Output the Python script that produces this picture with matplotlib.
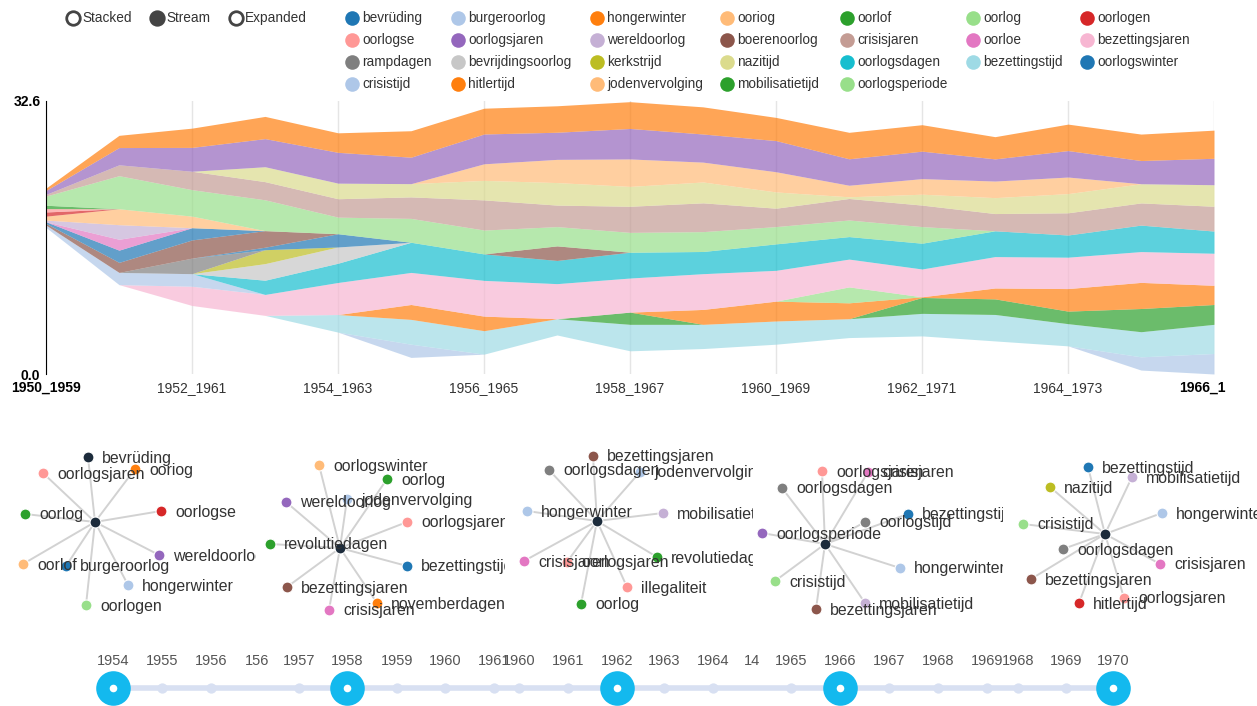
import numpy as np
import matplotlib.pyplot as plt
from matplotlib.transforms import Bbox, TransformedBbox

plt.rcParams['font.family'] = ['Liberation Sans', 'DejaVu Sans']

# ---- data: stream chart (year windows, layer thickness per window) ----
periods = ['1950_1959', '1951_1960', '1952_1961', '1953_1962', '1954_1963', '1955_1964',
           '1956_1965', '1957_1966', '1958_1967', '1959_1968', '1960_1969', '1961_1970',
           '1962_1971', '1963_1972', '1964_1973', '1965_1974', '1966_1975']
y_max = 32.6

# stream offset of the lowest layer
baseline = [17.5, 10.67, 8.18, 7.0, 5.0, 1.98, 2.37, 4.66, 2.77, 3.04, 3.56, 4.35, 4.55, 3.95, 3.36, 0.47, 0.0]

crisistijd        = [0, 0, 0, 0, 0, 1.58, 0, 0, 0, 0, 0, 0, 0, 0, 0, 1.58, 2.45]
bezettingstijd    = [0, 0, 0, 0, 2.1, 2.96, 2.8, 1.94, 3.16, 2.89, 2.77, 2.25, 2.69, 3.16, 2.65, 3.0, 3.48]
mobilisatietijd   = [0, 0, 0, 0, 0, 0, 0, 0, 1.46, 0, 0, 0, 1.9, 1.86, 1.5, 2.77, 2.37]
hitlertijd        = [0, 0, 0, 0, 0, 1.78, 1.74, 0, 0, 1.78, 2.37, 1.9, 0.08, 1.3, 2.69, 3.12, 2.29]
oorlogsperiode    = [0, 0, 0, 0, 0, 0, 0, 0, 0, 0, 0, 1.9, 0, 0, 0, 0, 0]
bezettingsjaren   = [0, 0, 2.3, 2.5, 3.83, 3.83, 4.27, 4.19, 4.07, 4.27, 3.68, 3.32, 3.32, 3.75, 3.75, 3.68, 3.83]
burgeroorlog      = [0.28, 1.46, 1.5, 0, 0, 0, 0, 0, 0, 0, 0, 0, 0, 0, 0, 0, 0]
oorlogsdagen      = [0, 0, 0, 1.7, 2.3, 3.6, 3.16, 2.77, 3.08, 2.65, 3.16, 2.69, 3.08, 3.08, 2.65, 3.16, 2.65]
bevrijdingsoorlog = [0, 0, 0, 1.98, 1.94, 0, 0, 0, 0, 0, 0, 0, 0, 0, 0, 0, 0]
kerkstrijd        = [0, 0, 0, 1.66, 0, 0, 0, 0, 0, 0, 0, 0, 0, 0, 0, 0, 0]
rampdagen         = [0, 0, 1.86, 0, 0, 0, 0, 0, 0, 0, 0, 0, 0, 0, 0, 0, 0]
oorlogswinter     = [0, 0, 0, 0.3, 1.58, 0, 0, 0, 0, 0, 0, 0, 0, 0, 0, 0, 0]
boerenoorlog      = [0.2, 1.2, 2.17, 1.98, 0, 0, 0, 1.74, 0, 0, 0, 0, 0, 0, 0, 0, 0]
bevruding         = [0.2, 1.46, 1.46, 0, 0, 0, 0, 0, 0, 0, 0, 0, 0, 0, 0, 0, 0]
oorloe            = [0, 1.3, 0, 0, 0, 0, 0, 0, 0, 0, 0, 0, 0, 0, 0, 0, 0]
wereldoorlog      = [0.2, 1.74, 0, 0, 0, 0, 0, 0, 0, 0, 0, 0, 0, 0, 0, 0, 0]
ooriog            = [0.47, 1.9, 1.38, 0, 0, 0, 0, 0, 0, 0, 0, 0, 0, 0, 0, 0, 0]
oorlogen          = [0.5, 0, 0, 0, 0, 0, 0, 0, 0, 0, 0, 0, 0, 0, 0, 0, 0]
oorlogse          = [0.4, 0, 0, 0, 0, 0, 0, 0, 0, 0, 0, 0, 0, 0, 0, 0, 0]
oorlof            = [0.4, 0, 0, 0, 0, 0, 0, 0, 0, 0, 0, 0, 0, 0, 0, 0, 0]
oorlog            = [1.1, 3.95, 3.16, 3.68, 1.98, 2.85, 2.85, 2.3, 2.37, 2.37, 2.06, 1.98, 1.98, 0, 0, 0, 0]
crisisjaren       = [0.2, 1.3, 2.2, 2.17, 2.2, 2.57, 3.6, 2.57, 3.12, 3.44, 2.2, 2.57, 2.57, 2.06, 2.65, 2.65, 2.96]
nazitijd          = [0, 0, 0, 1.78, 1.86, 1.58, 2.33, 2.69, 2.37, 2.49, 1.94, 0.2, 1.3, 1.9, 2.29, 2.29, 2.57]
jodenvervolging   = [0, 0, 0, 0, 0, 0, 1.98, 2.77, 3.28, 2.37, 2.41, 1.38, 1.86, 1.98, 1.98, 0, 0]
oorlogsjaren      = [0.47, 2.06, 2.85, 3.36, 3.68, 3.16, 3.56, 3.24, 3.64, 3.36, 3.72, 3.16, 3.28, 2.65, 3.16, 2.77, 3.16]
hongerwinter      = [0.28, 1.46, 2.3, 2.65, 2.33, 3.16, 3.08, 3.16, 3.2, 3.24, 2.77, 3.16, 3.16, 2.65, 3.16, 3.16, 3.36]

# legend order (category20 colours)
legend_names = ['bevrüding', 'burgeroorlog', 'hongerwinter', 'ooriog', 'oorlof', 'oorlog', 'oorlogen',
                'oorlogse', 'oorlogsjaren', 'wereldoorlog', 'boerenoorlog', 'crisisjaren', 'oorloe',
                'bezettingsjaren', 'rampdagen', 'bevrijdingsoorlog', 'kerkstrijd', 'nazitijd',
                'oorlogsdagen', 'bezettingstijd', 'oorlogswinter', 'crisistijd', 'hitlertijd',
                'jodenvervolging', 'mobilisatietijd', 'oorlogsperiode']
cat20 = ['#1f77b4', '#aec7e8', '#ff7f0e', '#ffbb78', '#2ca02c', '#98df8a', '#d62728', '#ff9896',
         '#9467bd', '#c5b0d5', '#8c564b', '#c49c94', '#e377c2', '#f7b6d2', '#7f7f7f', '#c7c7c7',
         '#bcbd22', '#dbdb8d', '#17becf', '#9edae5']
color_of = {n: cat20[i % 20] for i, n in enumerate(legend_names)}

# stacking order, bottom to top
layers = [('crisistijd', crisistijd), ('bezettingstijd', bezettingstijd),
          ('mobilisatietijd', mobilisatietijd), ('hitlertijd', hitlertijd),
          ('oorlogsperiode', oorlogsperiode), ('bezettingsjaren', bezettingsjaren),
          ('burgeroorlog', burgeroorlog), ('oorlogsdagen', oorlogsdagen),
          ('bevrijdingsoorlog', bevrijdingsoorlog), ('kerkstrijd', kerkstrijd),
          ('rampdagen', rampdagen), ('oorlogswinter', oorlogswinter),
          ('boerenoorlog', boerenoorlog), ('bevrüding', bevruding), ('oorloe', oorloe),
          ('wereldoorlog', wereldoorlog), ('ooriog', ooriog), ('oorlogen', oorlogen),
          ('oorlogse', oorlogse), ('oorlof', oorlof), ('oorlog', oorlog),
          ('crisisjaren', crisisjaren), ('nazitijd', nazitijd),
          ('jodenvervolging', jodenvervolging), ('oorlogsjaren', oorlogsjaren),
          ('hongerwinter', hongerwinter)]

# ---- data: co-occurrence graphs (hub + neighbours) ----
g1_words = ['bevrüding', 'oorlogsjaren', 'ooriog', 'oorlog', 'oorlogse', 'wereldoorlog',
            'oorlof', 'burgeroorlog', 'hongerwinter', 'oorlogen']
g1_colors = ['#1c2b3b', '#ff9896', '#ff7f0e', '#2ca02c', '#d62728', '#9467bd',
             '#ffbb78', '#1f77b4', '#aec7e8', '#98df8a']
g2_words = ['oorlogswinter', 'oorlog', 'jodenvervolging', 'wereldoorlog', 'oorlogsjaren',
            'revolutiedagen', 'bezettingstijd', 'bezettingsjaren', 'novemberdagen', 'crisisjaren']
g2_colors = ['#ffbb78', '#2ca02c', '#aec7e8', '#9467bd', '#ff9896',
             '#2ca02c', '#1f77b4', '#8c564b', '#ff7f0e', '#e377c2']
g3_words = ['bezettingsjaren', 'oorlogsdagen', 'jodenvervolging', 'hongerwinter', 'mobilisatietijd',
            'crisisjaren', 'oorlogsjaren', 'revolutiedagen', 'illegaliteit', 'oorlog']
g3_colors = ['#8c564b', '#7f7f7f', '#aec7e8', '#aec7e8', '#c5b0d5',
             '#e377c2', '#ff9896', '#2ca02c', '#ff9896', '#2ca02c']
g4_words = ['oorlogsjaren', 'crisisjaren', 'oorlogsdagen', 'bezettingstijd', 'oorlogstijd',
            'oorlogsperiode', 'hongerwinter', 'crisistijd', 'mobilisatietijd', 'bezettingsjaren']
g4_colors = ['#ff9896', '#e377c2', '#7f7f7f', '#1f77b4', '#7f7f7f',
             '#9467bd', '#aec7e8', '#98df8a', '#c5b0d5', '#8c564b']
g5_words = ['bezettingstijd', 'mobilisatietijd', 'nazitijd', 'hongerwinter', 'crisistijd',
            'oorlogsdagen', 'crisisjaren', 'bezettingsjaren', 'oorlogsjaren', 'hitlertijd']
g5_colors = ['#1f77b4', '#c5b0d5', '#bcbd22', '#aec7e8', '#98df8a',
             '#7f7f7f', '#e377c2', '#8c564b', '#ff9896', '#d62728']

# ---- data: timeline ----
tl_labels = ['1954', '1955', '1956', '156', '1957', '1958', '1959', '1960', '1961', '1960',
             '1961', '1962', '1963', '1964', '14', '1965', '1966', '1967', '1968', '1969',
             '1968', '1969', '1970']
tl_selected = ['1954', '1958', '1962', '1966', '1970']

# ---- layout (pixels) ----
W, H = 1257, 706
fig = plt.figure(figsize=(W / 100, H / 100), dpi=100)


def px_axes(x0, y0, x1, y1):
    return fig.add_axes([x0 / W, 1 - y1 / H, (x1 - x0) / W, (y1 - y0) / H])


# overlay axes in pixel coordinates for controls, legend, timeline
ov = fig.add_axes([0, 0, 1, 1])
ov.set_xlim(0, W)
ov.set_ylim(H, 0)
ov.axis('off')

# radio buttons
for label, cx, filled in [('Stacked', 73, False), ('Stream', 157, True), ('Expanded', 236, False)]:
    ov.scatter([cx], [18], s=95, facecolor='#444444' if filled else 'white',
               edgecolor='#444444', linewidth=2, zorder=3)
    ov.text(cx + 9, 18, label, fontsize=9.8, color='#333333', va='center', ha='left')

# legend grid
leg_cols = [352, 458, 597, 727, 847, 973, 1087]
leg_rows = [18, 40, 62, 84]
for i, name in enumerate(legend_names):
    cx = leg_cols[i % 7]
    cy = leg_rows[i // 7]
    ov.scatter([cx], [cy], s=110, color=color_of[name], linewidth=0, zorder=3)
    ov.text(cx + 10, cy, name, fontsize=9.8, color='#333333', va='center', ha='left')

# ---- stream chart ----
ax = px_axes(46, 101, 1214, 374)
x = np.arange(len(periods))
ax.set_xlim(0, len(periods) - 1)
ax.set_ylim(0, y_max)
for gx in x[::2]:
    ax.axvline(gx, color='#e5e5e5', lw=1, zorder=0)

bottom = np.array(baseline, dtype=float)
for name, vals in layers:
    v = np.array(vals, dtype=float)
    ax.fill_between(x, bottom, bottom + v, color=color_of[name], alpha=0.7, lw=0, zorder=2)
    bottom = bottom + v

for s in ['top', 'right', 'bottom']:
    ax.spines[s].set_visible(False)
ax.spines['left'].set_color('#000000')
ax.set_xticks([])
ax.set_yticks([0, y_max])
ax.set_yticklabels(['0.0', '32.6'], fontweight='bold', fontsize=10)
ax.tick_params(axis='y', length=0, pad=4)

clip = TransformedBbox(Bbox([[0, 0], [1226 / W, 1]]), fig.transFigure)
for i in x[::2]:
    last = i in (x[0], x[-1])
    t = ax.text(i, -0.052, periods[i], transform=ax.get_xaxis_transform(), ha='center', va='center',
                fontsize=10, color='#000000' if last else '#333333',
                fontweight='bold' if last else 'normal')
    t.set_clip_box(clip)
    t.set_clip_on(True)

# ---- co-occurrence graphs ----
graph_bounds = [(0, 256), (256, 505), (505, 753), (753, 1003), (1003, 1257)]
graph_hubs = [(95, 522), (340, 548), (597, 521), (825, 544), (1105, 534)]
graph_offsets = [
    [(-7, -65), (-52, -49), (40, -53), (-70, -8), (66, -11), (64, 33), (-72, 42), (-29, 44), (33, 63), (-9, 83)],
    [(-21, -83), (47, -69), (7, -49), (-54, -46), (67, -26), (-70, -4), (67, 18), (-53, 39), (37, 55), (-11, 62)],
    [(-4, -65), (-48, -51), (43, -49), (-70, -10), (66, -8), (-73, 40), (-30, 41), (60, 36), (30, 66), (-16, 83)],
    [(-3, -73), (43, -72), (-43, -56), (83, -30), (40, -22), (-63, -11), (75, 24), (-50, 37), (40, 59), (-9, 65)],
    [(-17, -67), (27, -57), (-55, -47), (57, -21), (-82, -10), (-42, 15), (55, 30), (-74, 45), (19, 64), (-26, 69)],
]
graphs = [(g1_words, g1_colors), (g2_words, g2_colors), (g3_words, g3_colors),
          (g4_words, g4_colors), (g5_words, g5_colors)]

for (gx0, gx1), (hx, hy), offs, (words, cols) in zip(graph_bounds, graph_hubs, graph_offsets, graphs):
    gax = px_axes(gx0, 440, gx1, 625)
    gax.set_xlim(gx0, gx1)
    gax.set_ylim(625, 440)
    gax.axis('off')
    for (dx, dy) in offs:
        gax.plot([hx, hx + dx], [hy, hy + dy], color='#d2d2d2', lw=1.4, zorder=1)
    gax.scatter([hx], [hy], s=62, color='#1c2b3b', edgecolor='white', linewidth=0.8, zorder=3)
    for (dx, dy), w, c in zip(offs, words, cols):
        gax.scatter([hx + dx], [hy + dy], s=62, color=c, edgecolor='white', linewidth=0.8, zorder=3)
        gax.text(hx + dx + 14, hy + dy + 1, w, fontsize=11.4, color='#333333',
                 va='center', ha='left', zorder=4, clip_on=True)

# ---- timeline ----
tl_x = [113, 162, 211, 257, 299, 347, 397, 445, 494, 519, 568, 617, 664, 713, 752,
        791, 840, 889, 938, 987, 1018, 1066, 1113]
no_dot = {3, 14}
ov.plot([tl_x[0], tl_x[-1]], [688, 688], color='#d8e0f2', lw=4, solid_capstyle='round', zorder=1)
for i, (lab, tx) in enumerate(zip(tl_labels, tl_x)):
    ov.text(tx, 661, lab, fontsize=10.5, color='#555555', ha='center', va='center')
    if i in no_dot:
        continue
    big = lab in tl_selected and i in (0, 5, 11, 16, 22)
    if big:
        ov.scatter([tx], [688], s=620, color='#13b9ee', linewidth=0, zorder=3)
        ov.scatter([tx], [688], s=30, color='white', linewidth=0, zorder=4)
    else:
        ov.scatter([tx], [688], s=55, color='#d8e0f2', linewidth=0, zorder=2)

fig.savefig('out.png', dpi=100)
